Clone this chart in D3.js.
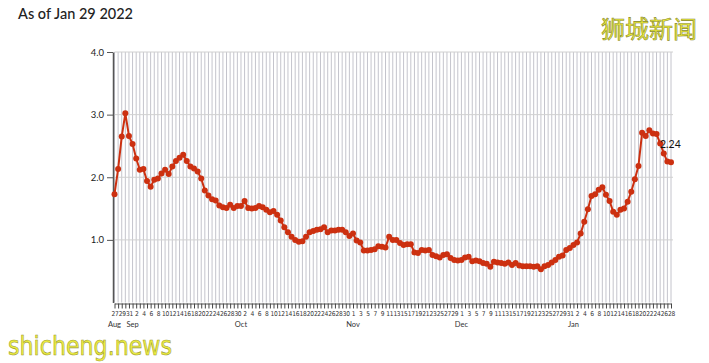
<!DOCTYPE html>
<html>
<head>
<meta charset="utf-8">
<script src="https://cdn.jsdelivr.net/npm/d3@7"></script>
<style>
  body { margin: 0; background: #fff; }
  svg { display: block; font-family: Lato, "Noto Sans", sans-serif; }
</style>
</head>
<body>
<div id="chart"></div>
<script>
// daily values from Aug 27 2021 to Jan 28 2022
const startDay = new Date(2021, 7, 27);
const values = [
  1.73, 2.13, 2.65, 3.02, 2.66, 2.53, 2.30, 2.12, 2.13, 1.94,
  1.85, 1.96, 1.98, 2.06, 2.12, 2.05, 2.17, 2.26, 2.31, 2.36,
  2.26, 2.17, 2.14, 2.09, 1.98, 1.79, 1.71, 1.65, 1.63, 1.55,
  1.52, 1.51, 1.56, 1.51, 1.54, 1.54, 1.62, 1.51, 1.50, 1.51,
  1.54, 1.52, 1.48, 1.44, 1.46, 1.40, 1.31, 1.20, 1.12, 1.05,
  1.00, 0.97, 0.98, 1.05, 1.12, 1.14, 1.16, 1.17, 1.20, 1.12,
  1.15, 1.15, 1.16, 1.16, 1.12, 1.06, 1.10, 0.99, 0.96, 0.83,
  0.83, 0.84, 0.85, 0.90, 0.89, 0.88, 1.05, 1.00, 1.00, 0.95,
  0.92, 0.93, 0.93, 0.80, 0.79, 0.84, 0.83, 0.84, 0.76, 0.74,
  0.72, 0.76, 0.77, 0.71, 0.68, 0.67, 0.68, 0.72, 0.73, 0.66,
  0.67, 0.66, 0.63, 0.62, 0.57, 0.65, 0.64, 0.63, 0.62, 0.64,
  0.60, 0.63, 0.59, 0.58, 0.58, 0.58, 0.57, 0.58, 0.53, 0.58,
  0.60, 0.64, 0.68, 0.73, 0.75, 0.84, 0.87, 0.92, 0.96, 1.10,
  1.29, 1.49, 1.70, 1.73, 1.80, 1.84, 1.72, 1.62, 1.45, 1.40,
  1.48, 1.50, 1.61, 1.77, 1.97, 2.18, 2.71, 2.66, 2.75, 2.70,
  2.69, 2.54, 2.38, 2.25, 2.24
];
const yTicks = [1, 2, 3, 4];
const monthNames = ['Jan', 'Feb', 'Mar', 'Apr', 'May', 'Jun', 'Jul', 'Aug', 'Sep', 'Oct', 'Nov', 'Dec'];
const title = 'As of Jan 29 2022';

const dates = values.map((v, i) => d3.timeDay.offset(startDay, i));
const data = values.map((v, i) => ({ date: dates[i], value: v }));

const W = 709, H = 363;
const lineColor = '#cc3010';

const svg = d3.select('#chart').append('svg')
  .attr('width', W)
  .attr('height', H);

const x = d3.scaleTime()
  .domain([dates[0], dates[dates.length - 1]])
  .range([114.5, 671]);
const y = d3.scaleLinear()
  .domain([0, 4])
  .range([302.5, 52]);

// title
svg.append('text')
  .attr('x', 18)
  .attr('y', 19)
  .attr('font-size', 14.5)
  .attr('font-weight', 500)
  .attr('fill', '#222')
  .text(title);

// vertical grid, one per day
svg.append('g')
  .selectAll('line')
  .data(dates)
  .join('line')
  .attr('x1', d => x(d))
  .attr('x2', d => x(d))
  .attr('y1', y(0))
  .attr('y2', y(4))
  .attr('stroke', '#c4c4cc')
  .attr('stroke-width', 1);

// horizontal grid
svg.append('g')
  .selectAll('line')
  .data(yTicks)
  .join('line')
  .attr('x1', x.range()[0])
  .attr('x2', 673)
  .attr('y1', d => y(d))
  .attr('y2', d => y(d))
  .attr('stroke', '#d0d0d0')
  .attr('stroke-width', 1);

// y axis
const yAxis = svg.append('g')
  .attr('transform', 'translate(113,0)')
  .call(d3.axisLeft(y).tickValues(yTicks).tickFormat(d3.format('.1f')).tickSize(6).tickSizeOuter(0));
yAxis.select('.domain').attr('stroke', '#555').attr('stroke-width', 1.5);
yAxis.selectAll('.tick line').attr('stroke', '#555');
yAxis.selectAll('.tick text')
  .attr('font-size', 9.5)
  .attr('fill', '#222')
  .attr('font-family', 'Lato, "Noto Sans", sans-serif');

// x axis, a tick each day, a label every other day
const xAxis = svg.append('g')
  .attr('transform', 'translate(0,' + (y(0) + 1) + ')')
  .call(d3.axisBottom(x)
    .tickValues(dates)
    .tickSize(5)
    .tickSizeOuter(0)
    .tickPadding(3)
    .tickFormat((d, i) => (i % 2 === 0 ? d.getDate() : '')));
xAxis.select('.domain').attr('stroke', '#555').attr('stroke-width', 1.2);
xAxis.selectAll('.tick line').attr('stroke', '#444').attr('stroke-width', 1);
xAxis.selectAll('.tick text')
  .attr('font-size', 6.6)
  .attr('letter-spacing', -0.3)
  .attr('fill', '#333')
  .attr('font-family', '"DejaVu Sans Condensed", Lato, sans-serif');

// month labels
const monthStarts = dates.filter((d, i) => i === 0 || d.getDate() === 1);
svg.append('g')
  .selectAll('text')
  .data(monthStarts)
  .join('text')
  .attr('x', d => x(d))
  .attr('y', 327)
  .attr('text-anchor', 'middle')
  .attr('font-size', 7.5)
  .attr('fill', '#333')
  .text(d => monthNames[d.getMonth()]);

// line
svg.append('path')
  .datum(data)
  .attr('fill', 'none')
  .attr('stroke', lineColor)
  .attr('stroke-width', 2)
  .attr('stroke-linejoin', 'round')
  .attr('d', d3.line()
    .x(d => x(d.date))
    .y(d => y(d.value)));

// points
svg.append('g')
  .selectAll('circle')
  .data(data)
  .join('circle')
  .attr('cx', d => x(d.date))
  .attr('cy', d => y(d.value))
  .attr('r', 3)
  .attr('fill', lineColor);

// last value label
const last = data[data.length - 1];
svg.append('text')
  .attr('x', x(last.date) - 11)
  .attr('y', y(last.value) - 14)
  .attr('font-size', 10.5)
  .attr('fill', '#111')
  .text(last.value.toFixed(2));

// watermarks
svg.append('text')
  .attr('x', 601)
  .attr('y', 38)
  .attr('font-size', 24)
  .attr('font-family', '"Noto Sans CJK SC", sans-serif')
  .attr('fill', '#ecec3a')
  .attr('stroke', '#8a8a30')
  .attr('stroke-width', 0.6)
  .text('狮城新闻');

svg.append('text')
  .attr('x', 8)
  .attr('y', 355)
  .attr('font-size', 27)
  .attr('textLength', 164)
  .attr('lengthAdjust', 'spacingAndGlyphs')
  .attr('font-family', '"DejaVu Sans", sans-serif')
  .attr('fill', '#eeee40')
  .attr('stroke', '#9a9a30')
  .attr('stroke-width', 0.6)
  .text('shicheng.news');
</script>
</body>
</html>
